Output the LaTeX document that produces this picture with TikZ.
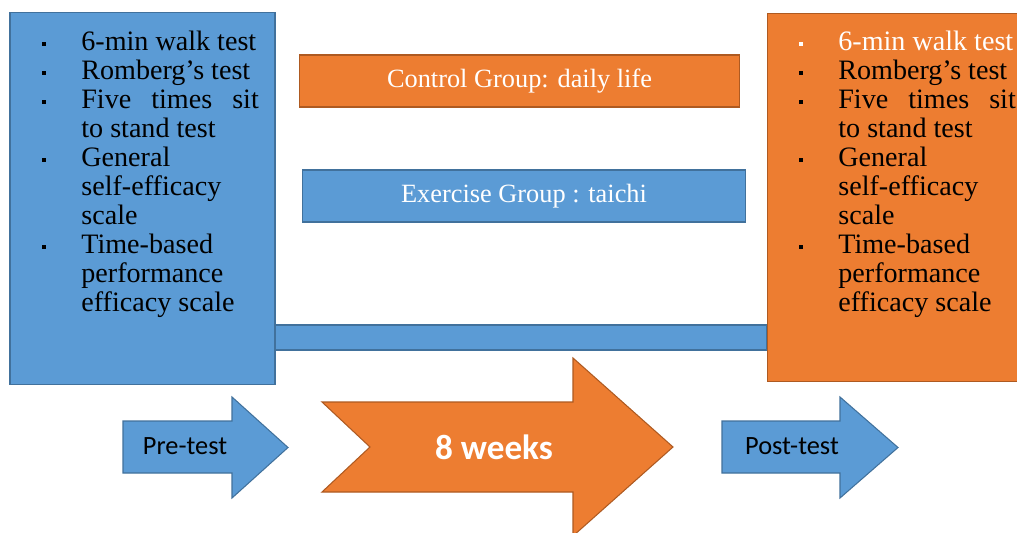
\documentclass[tikz,border=0pt]{standalone}
\usepackage{fontspec}
\setmainfont{Liberation Serif}
\newfontfamily\calibri{Carlito}
\definecolor{offblue}{HTML}{5B9BD5}
\definecolor{offblueline}{HTML}{41719C}
\definecolor{offorange}{HTML}{ED7D31}
\definecolor{offorangeline}{HTML}{AE5A21}
% square bullet hanging left of the item text
\newcommand\itm{\noindent\llap{\rule[2.6pt]{2.3pt}{2.3pt}\hspace{0.7cm}}}

\tikzset{
  bluebox/.style={draw=offblueline, fill=offblue, line width=0.6pt},
  orangebox/.style={draw=offorangeline, fill=offorange, line width=0.6pt},
  testlist/.style={anchor=north west, inner sep=0pt, text width=3.55cm,
    align=justify, font=\fontsize{16pt}{16.5pt}\selectfont},
  grouplabel/.style={inner sep=0pt, minimum height=1.04cm, text=white,
    font=\fontsize{15pt}{18pt}\selectfont},
  steplabel/.style={inner sep=0pt, font=\calibri\fontsize{15pt}{18pt}\selectfont}
}

\begin{document}
\begin{tikzpicture}[x=0.02cm,y=-0.02cm]%
  \useasboundingbox (0,0) rectangle (1017,533);
  \fill[white] (0,0) rectangle (1017,533);
  \clip (0,0) rectangle (1017,533);
  % pre-test and post-test boxes
  \node[bluebox, inner sep=0pt, minimum width=5.3cm, minimum height=7.46cm]
    (pre) at (142.5,198.5) {};
  \node[orangebox, inner sep=0pt, minimum width=5.2cm, minimum height=7.38cm]
    (post) at (897,197.5) {};
  % bar joining the two boxes
  \coordinate (bartop) at (0,325);
  \coordinate (barbot) at (0,350);
  \draw[bluebox] (pre.east |- bartop) rectangle (post.west |- barbot);
  % lists of tests
  \node[testlist] (prelist) at (81,30.5) {%
    \itm 6-min walk test\par
    \itm Romberg's test\par
    \itm Five times sit\linebreak to stand test\par
    \itm General\newline self-efficacy\newline scale\par
    \itm Time-based\newline performance\newline efficacy scale\par};
  \node[testlist] (postlist) at (838,30.5) {%
    {\color{white}\itm 6-min walk test\par}
    \itm Romberg's test\par
    \itm Five times sit\linebreak to stand test\par
    \itm General\newline self-efficacy\newline scale\par
    \itm Time-based\newline performance\newline efficacy scale\par};
  % the two groups
  \node[orangebox, grouplabel, minimum width=8.82cm] (ctrl) at (519.5,81)
    {Control Group: daily life};
  \node[bluebox, grouplabel, minimum width=8.88cm] (exer) at (524,196)
    {Exercise Group : taichi};
  % small step arrows
  \foreach \xl/\xb/\xt/\xc/\nm/\lbl in {%
      123/232/288/185/prestep/Pre-test,%
      722/840/898/792/poststep/Post-test%
    }{%
    \draw[bluebox] (\xl,421) -- (\xb,421) -- (\xb,397) -- (\xt,447.5)
      -- (\xb,498) -- (\xb,473) -- (\xl,473) -- cycle;
    \node[steplabel] (\nm) at (\xc,446) {\lbl};
  }
  % big chevron arrow
  \draw[orangebox] (322,402) -- (573,402) -- (573,358) -- (673,447)
    -- (573,536) -- (573,492) -- (322,492) -- (370,447) -- cycle;
  \node[inner sep=0pt, text=white, font=\calibri\bfseries\fontsize{20pt}{24pt}\selectfont]
    (weeks) at (494,447) {8 weeks};
\end{tikzpicture}
\end{document}
